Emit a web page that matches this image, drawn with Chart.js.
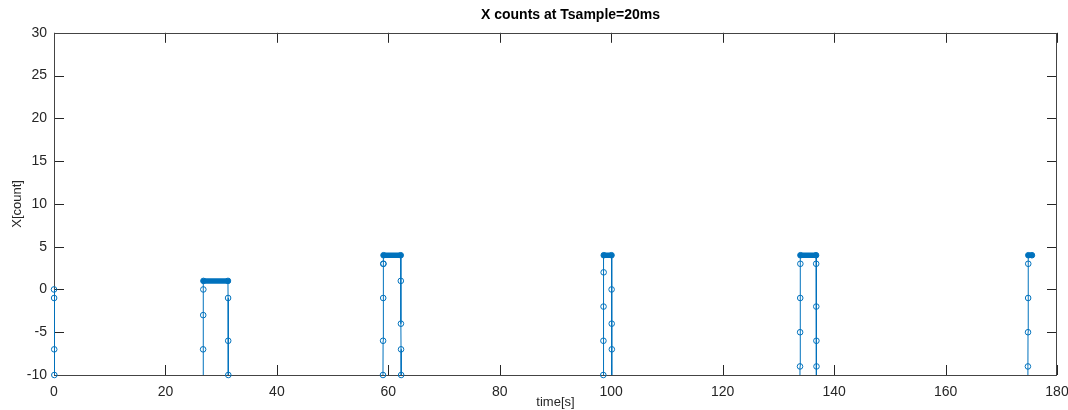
<!DOCTYPE html>
<html>
<head>
<meta charset="utf-8">
<script src="https://cdn.jsdelivr.net/npm/chart.js@4.4.1/dist/chart.umd.min.js"></script>
<style>
  html, body { margin: 0; padding: 0; background: #fff; }
  #wrap { width: 1068px; height: 410px; }
</style>
</head>
<body>
<div id="wrap"><canvas id="counts-chart"></canvas></div>
<script>
// edge samples per burst, time in s / count
// -12 stands for "somewhere below the visible floor" (line runs off the axis there)
const burstATime  = [0.00, 0.02, 0.04, 0.06, 0.08];
const burstACount = [0, -1, -7, -10, -12];

const burstBTime  = [26.74, 26.76, 26.78, 26.80, 26.82, 31.22, 31.24, 31.26, 31.28, 31.30];
const burstBCount = [-12, -7, -3, 0, 1, 1, -1, -6, -10, -12];

const burstCTime  = [59.02, 59.04, 59.06, 59.08, 59.10, 59.12, 59.14, 62.22, 62.24, 62.26, 62.28, 62.30, 62.32];
const burstCCount = [-12, -10, -6, -1, 3, 3, 4, 4, 1, -4, -7, -10, -12];

const burstDTime  = [98.56, 98.58, 98.60, 98.62, 98.64, 98.66, 100.05, 100.07, 100.09, 100.11, 100.13];
const burstDCount = [-12, -10, -6, -2, 2, 4, 4, 0, -4, -7, -12];

const burstETime  = [133.86, 133.88, 133.90, 133.92, 133.94, 133.96, 136.76, 136.78, 136.80, 136.82, 136.84, 136.86];
const burstECount = [-12, -9, -5, -1, 3, 4, 4, 3, -2, -6, -9, -12];

const burstFTime  = [174.76, 174.78, 174.80, 174.82, 174.84, 174.86, 175.50];
const burstFCount = [-12, -9, -5, -1, 3, 4, 4];

// runs of identical samples every 20ms (drawn as one thick stroke of overlapping markers)
const plateauStart = [26.82, 59.14, 98.66, 133.96, 174.86];
const plateauEnd   = [31.22, 62.22, 100.05, 136.76, 175.50];
const plateauLevel = [1, 4, 4, 4, 4];

const xTicks = [0, 20, 40, 60, 80, 100, 120, 140, 160, 180];
const yTicks = [-10, -5, 0, 5, 10, 15, 20, 25, 30];

const burstTimes  = [burstATime, burstBTime, burstCTime, burstDTime, burstETime, burstFTime];
const burstCounts = [burstACount, burstBCount, burstCCount, burstDCount, burstECount, burstFCount];

const points = [];
burstTimes.forEach((ts, i) => {
  ts.forEach((t, j) => points.push({ x: t, y: burstCounts[i][j] }));
});
const yMin = yTicks[0];
const visiblePoints = points.filter(p => p.y >= yMin);

const FONT = '"Liberation Sans", Arial, Helvetica, sans-serif';
const BLUE = '#0072BD';

const plateauSets = plateauStart.map((s, i) => ({
  label: 'run ' + i,
  data: [{ x: s, y: plateauLevel[i] }, { x: plateauEnd[i], y: plateauLevel[i] }],
  borderColor: BLUE,
  borderWidth: 5.5,
  borderCapStyle: 'round',
  pointRadius: 0,
  clip: false
}));

// matlab-ish box with inward ticks on all 4 sides
const matlabBox = {
  id: 'matlabBox',
  afterLayout(chart) {
    // title sits a bit right of the axes centre in the original
    if (chart.titleBlock) chart.titleBlock.left += 30;
  },
  beforeDatasetsDraw(chart) {
    const { ctx, chartArea: a, scales: { x, y } } = chart;
    const len = 10;
    ctx.save();
    ctx.lineWidth = 1;
    ctx.strokeStyle = '#262626';
    ctx.beginPath();
    x.ticks.forEach(t => {
      const px = Math.round(x.getPixelForValue(t.value)) + 0.5;
      ctx.moveTo(px, a.bottom); ctx.lineTo(px, a.bottom - len);
      ctx.moveTo(px, a.top); ctx.lineTo(px, a.top + len);
    });
    y.ticks.forEach(t => {
      const py = Math.round(y.getPixelForValue(t.value)) + 0.5;
      ctx.moveTo(a.left, py); ctx.lineTo(a.left + len, py);
      ctx.moveTo(a.right, py); ctx.lineTo(a.right - len, py);
    });
    ctx.stroke();
    ctx.strokeStyle = '#444';
    ctx.strokeRect(Math.round(a.left) + 0.5, Math.round(a.top) + 0.5,
                   Math.round(a.width) - 1, Math.round(a.height));
    ctx.restore();
  }
};

const ctxCounts = document.getElementById('counts-chart');

new Chart(ctxCounts, {
  type: 'line',
  data: {
    datasets: [{
      label: 'X line',
      data: points,
      borderColor: BLUE,
      borderWidth: 1,
      pointRadius: 0,
      tension: 0
    },
    {
      label: 'X samples',
      data: visiblePoints,
      showLine: false,
      borderColor: BLUE,
      backgroundColor: 'rgba(0,0,0,0)',
      pointRadius: 2.8,
      pointBorderWidth: 1,
      clip: false
    },
    ...plateauSets]
  },
  options: {
    responsive: true,
    maintainAspectRatio: false,
    animation: false,
    events: [],
    layout: {
      padding: { left: 0, right: 0, top: 0, bottom: 0 }
    },
    plugins: {
      legend: { display: false },
      tooltip: { enabled: false },
      title: {
        display: true,
        fullSize: false,
        text: 'X counts at Tsample=20ms',
        color: '#000',
        font: { family: FONT, size: 14, weight: 'bold' },
        padding: { top: 7, bottom: 9 }
      }
    },
    scales: {
      x: {
        type: 'linear',
        min: xTicks[0],
        max: xTicks[xTicks.length - 1],
        afterFit: (scale) => {
          scale.height = 35;
          scale.paddingLeft = 0;
          scale.paddingRight = 11;
        },
        afterBuildTicks: (scale) => { scale.ticks = xTicks.map(v => ({ value: v })); },
        border: { display: false },
        grid: { drawOnChartArea: false, drawTicks: false },
        ticks: {
          color: '#262626',
          font: { family: FONT, size: 14 },
          padding: 9,
          maxRotation: 0,
          autoSkip: false
        },
        title: {
          display: true,
          text: 'time[s]',
          color: '#262626',
          font: { family: FONT, size: 13 },
          padding: { top: 0, bottom: 0 }
        }
      },
      y: {
        min: yMin,
        max: yTicks[yTicks.length - 1],
        afterFit: (scale) => { scale.width = 54; },
        afterBuildTicks: (scale) => { scale.ticks = yTicks.map(v => ({ value: v })); },
        border: { display: false },
        grid: { drawOnChartArea: false, drawTicks: false },
        ticks: {
          color: '#262626',
          font: { family: FONT, size: 14 },
          padding: 7,
          autoSkip: false
        },
        title: {
          display: true,
          text: 'X[count]',
          color: '#262626',
          font: { family: FONT, size: 13 },
          padding: { top: 10, bottom: 0 }
        }
      }
    }
  },
  plugins: [matlabBox]
});
</script>
</body>
</html>
